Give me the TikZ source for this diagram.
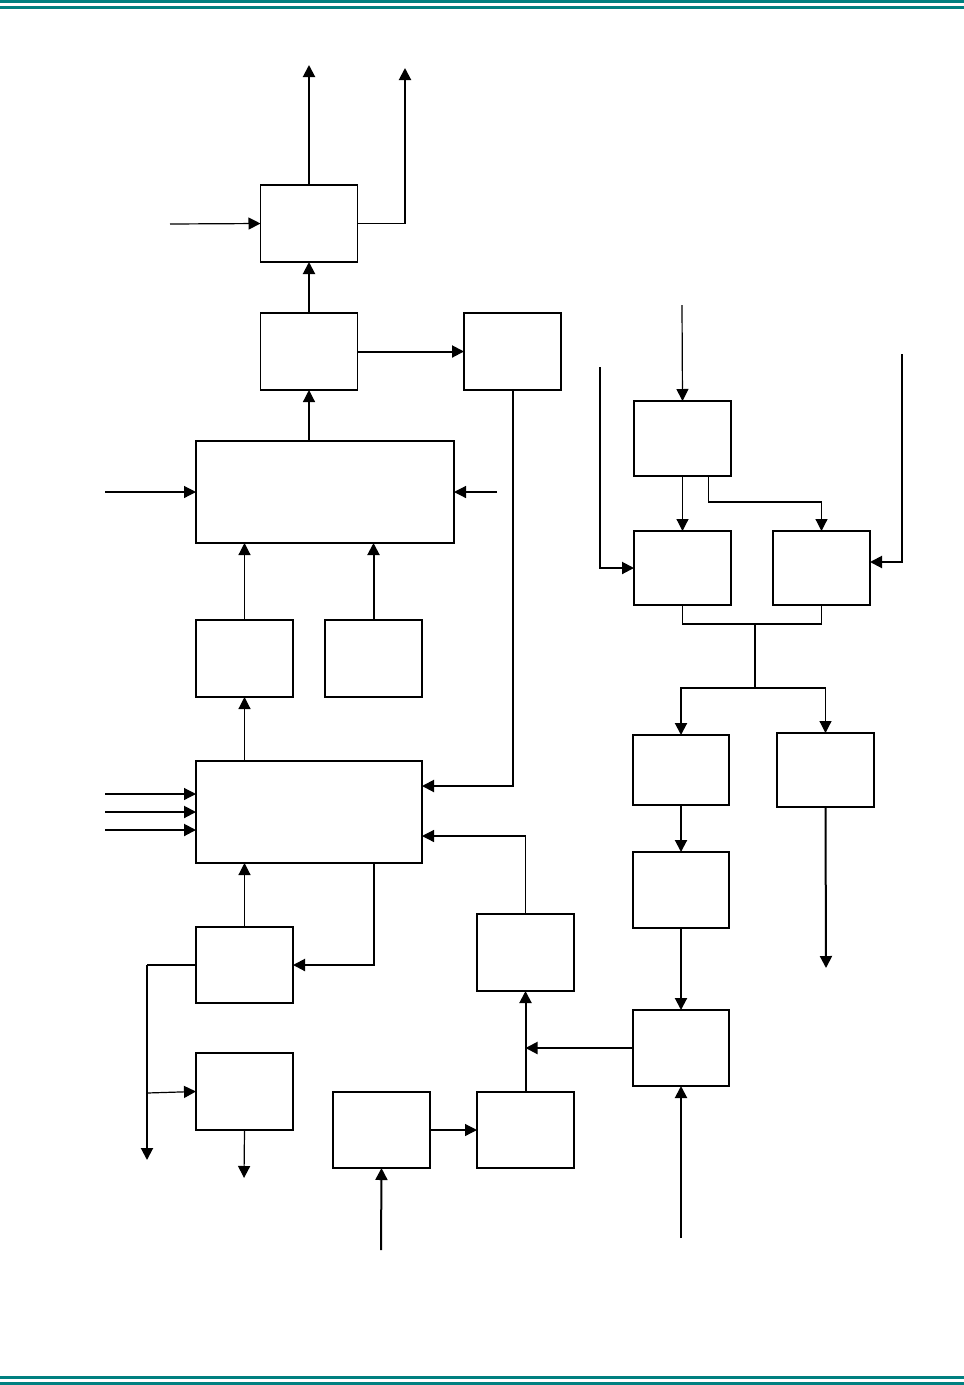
\documentclass[tikz,border=0pt]{standalone}
\usepackage{tikz}
\usetikzlibrary{arrows.meta}
\definecolor{rulecol}{RGB}{0,128,128}

\begin{document}
\begin{tikzpicture}[x=1pt, y=-1pt,
    blk/.style={draw, rectangle, line width=1.6pt, inner sep=0pt, outer sep=0pt,
                minimum width=97pt, minimum height=77pt},
    wire/.style={line width=1.2pt},
    twire/.style={line width=2pt},
    arrow/.style={-{Triangle[length=12pt,width=12pt]}, line width=1.2pt},
    tarrow/.style={arrow, line width=2pt}
]
\useasboundingbox (0,0) rectangle (964,1385);
% page rules
\fill[rulecol] (0,0) rectangle (964,3);
\fill[rulecol] (0,6) rectangle (964,9);
\fill[rulecol] (0,1376) rectangle (964,1379);
\fill[rulecol] (0,1382) rectangle (964,1385);

% left column
\node[blk] (out1) at (309,223.5) {};
\node[blk] (mix) at (309,351.5) {};
\node[blk] (aux) at (512.5,351.5) {};
\node[blk, minimum width=258pt, minimum height=102pt] (ctrl) at (325,492) {};
\node[blk] (ina) at (244.5,658.5) {};
\node[blk] (inb) at (373.5,658.5) {};
\node[blk, minimum width=226pt, minimum height=102pt] (core) at (309,812) {};
\node[blk, minimum height=76pt] (drv) at (244.5,965) {};
\node[blk] (buf) at (244.5,1091.5) {};
\node[blk, minimum height=76pt] (src) at (381.5,1130) {};
\node[blk, minimum height=76pt] (sel) at (525.5,1130) {};
\node[blk] (fb) at (525.5,952.5) {};

% right column
\node[blk, minimum height=75pt] (det) at (682.5,438.5) {};
\node[blk, minimum height=74pt] (lft) at (682.5,568) {};
\node[blk, minimum height=74pt] (rgt) at (821.5,568) {};
\node[blk, minimum width=96pt, minimum height=70pt] (chA) at (681,770) {};
\node[blk, minimum height=74pt] (chB) at (825.5,770) {};
\node[blk, minimum width=96pt, minimum height=76pt] (chC) at (681,890) {};
\node[blk, minimum width=96pt, minimum height=76pt] (mux) at (681,1048) {};

% free ends
\coordinate (upA) at (309,65);
\coordinate (upB) at (405,68);
\coordinate (inOut) at (170,224);
\coordinate (inL) at (105,492);
\coordinate (inR) at (497,492);
\coordinate (dn1) at (147,1160);
\coordinate (br) at (147,1093);
\coordinate (dn2) at (244,1178);
\coordinate (inS) at (381,1250);
\coordinate (inD) at (682,305);
\coordinate (inP) at (600,367);
\coordinate (inQ) at (902,354);
\coordinate (join) at (755,624);
\coordinate (split) at (755,688);
\coordinate (dnR) at (826,968);
\coordinate (inM) at (681,1238);

% left connectors
\draw[tarrow] (out1.north) -- (upA);
\draw[wire] (out1.east) -- (out1.east -| upB);
\draw[tarrow] (out1.east -| upB) -- (upB);
\draw[arrow] (inOut) -- (out1.west);
\draw[tarrow] (mix.north) -- (out1.south);
\draw[tarrow] (mix.east) -- (aux.west);
\draw[tarrow] (aux.south) |- ([yshift=26pt]core.east);
\draw[arrow] (mix.south |- ctrl.north) -- (mix.south);
\draw[arrow] (inL) -- (ctrl.west);
\draw[arrow] (inR) -- (ctrl.east);
\draw[arrow] (ina.north) -- (ina.north |- ctrl.south);
\draw[tarrow] (inb.north) -- (inb.north |- ctrl.south);
\draw[arrow] (ina.south |- core.north) -- (ina.south);
\foreach \y/\w in {794/1.2pt, 812/2pt, 830/2pt} {
  \coordinate (in\y) at (105,\y);
  \draw[arrow, line width=\w] (in\y) -- (core.west |- in\y);
}
\draw[arrow] (fb.north) |- ([yshift=-24pt]core.east);
\draw[arrow] (drv.north) -- (drv.north |- core.south);
\draw[tarrow] ([xshift=65pt]core.south) |- (drv.east);
\draw[wire] (drv.west) -- (drv.west -| dn1);
\draw[tarrow] (drv.west -| dn1) -- (dn1);
\draw[arrow] (br) -- (buf.west);
\draw[arrow] (buf.south) -- (dn2);
\draw[tarrow] (inS) -- (src.south);
\draw[arrow] (src.east) -- (sel.west);
\draw[tarrow] (sel.north) -- (fb.south);
\draw[tarrow] (mux.west) -- (mux.west -| sel.north);

% right connectors
\draw[arrow] (inD) -- (det.north);
\draw[arrow] (det.south) -- (lft.north);
\draw[arrow] ([xshift=26pt]det.south) |- ++(0,26) -| (rgt.north);
\draw[tarrow] (inP) |- (lft.west);
\draw[tarrow] (inQ) |- ([yshift=6pt]rgt.east);
\draw[wire] (lft.south) |- (join) -| (rgt.south);
\draw[twire] (join) -- (split);
\draw[tarrow] (split) -| (chA.north);
\draw[arrow] (split) -| (chB.north);
\draw[tarrow] (chA.south) -- (chC.north);
\draw[tarrow] (chB.south) -- (dnR);
\draw[tarrow] (chC.south) -- (mux.north);
\draw[tarrow] (inM) -- (mux.south);
\end{tikzpicture}
\end{document}
